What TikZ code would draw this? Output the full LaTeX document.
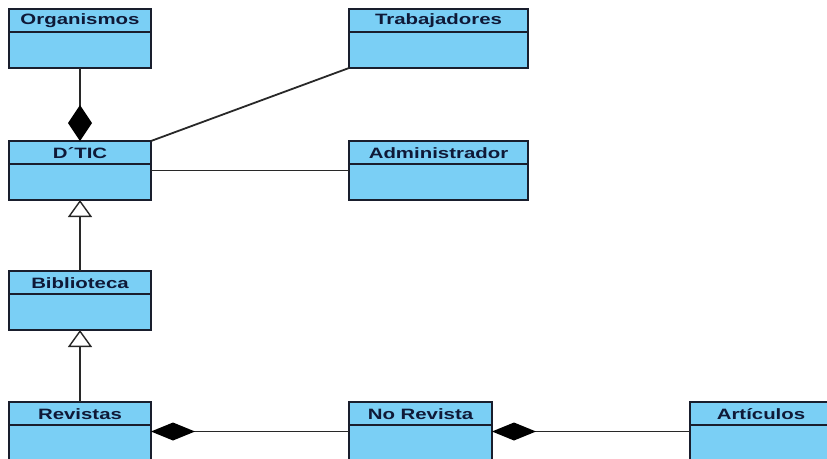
\documentclass[tikz,border=0pt]{standalone}
\usepackage{fontspec}
\setmainfont{Liberation Sans}
\usetikzlibrary{arrows.meta}

\definecolor{classfill}{RGB}{122,207,245}
\definecolor{classline}{RGB}{25,30,45}
\definecolor{classtext}{RGB}{15,25,55}
\definecolor{linkcol}{RGB}{40,40,40}

\tikzset{
  clsbox/.style={draw=classline, fill=classfill, line width=1.8pt,
    minimum height=59pt, inner sep=0pt, outer sep=0pt},
  divider/.style={draw=classline, line width=1.3pt},
  clstitle/.style={text=classtext, inner sep=0pt,
    font=\fontsize{15}{17}\selectfont\bfseries},
  link/.style={draw=linkcol, line width=1.8pt},
  composite/.style={link, {Diamond[length=36pt,width=24pt,fill=black,color=black]}-},
  compositeh/.style={link, {Diamond[length=44pt,width=18pt,fill=black,color=black]}-},
  inherits/.style={link, -{Triangle[length=17pt,width=24pt,fill=white,color=linkcol,line width=1.4pt]}},
}

% class box: name, centre, width, title
\newcommand\umlclass[4]{%
  \node[clsbox, minimum width=#3] (#1) at #2 {};
  \draw[divider] ([yshift=-23pt]#1.north west) -- ([yshift=-23pt]#1.north east);
  \node[clstitle] (#1-title) at ([yshift=-12pt]#1.north) {\scalebox{1.36}[1]{#4}};
}

\begin{document}
\begin{tikzpicture}[x=1pt,y=-1pt]
  \useasboundingbox (0,0) rectangle (827,458);
  \clip (0,0) rectangle (827,458);
  \fill[white] (0,0) rectangle (827,458);

  \umlclass{org}{(80,38.5)}{142pt}{Organismos}
  \umlclass{trab}{(438.5,38.5)}{179pt}{Trabajadores}
  \umlclass{dtic}{(80,170.5)}{142pt}{D´TIC}
  \umlclass{admin}{(438.5,170.5)}{179pt}{Administrador}
  \umlclass{bib}{(80,300.5)}{142pt}{Biblioteca}
  \umlclass{rev}{(80,431.5)}{142pt}{Revistas}
  \umlclass{norev}{(420.5,431.5)}{143pt}{No Revista}
  \umlclass{art}{(761,431.5)}{142pt}{Artículos}

  % associations
  \draw[composite] (dtic.north) -- (org.south);
  \draw[link] (dtic.north east) -- (trab.south west);
  \draw[link] (dtic.east) -- (admin.west);

  % generalisations
  \draw[inherits] (bib.north) -- (dtic.south);
  \draw[inherits] (rev.north) -- (bib.south);

  % compositions along the bottom row
  \draw[compositeh] (rev.east) -- (norev.west);
  \draw[compositeh] (norev.east) -- (art.west);
\end{tikzpicture}
\end{document}
